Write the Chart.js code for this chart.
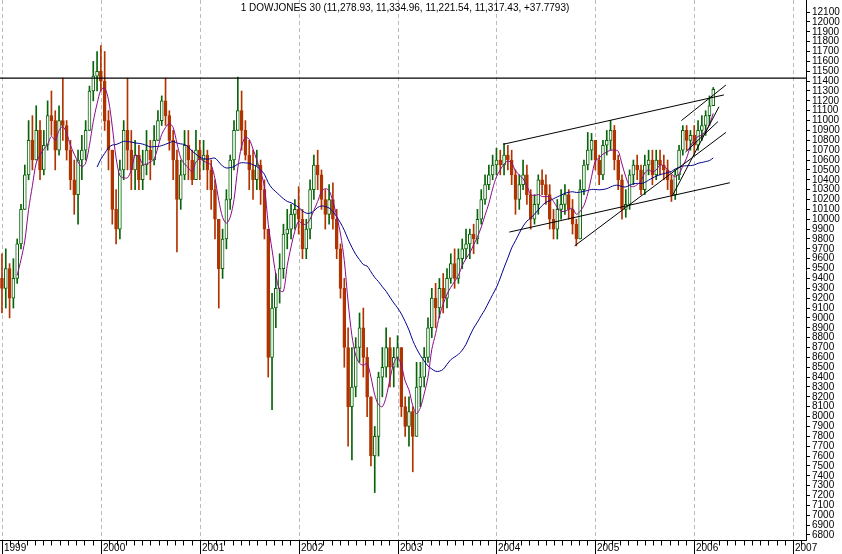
<!DOCTYPE html>
<html><head><meta charset="utf-8">
<script src="https://cdn.jsdelivr.net/npm/chart.js@4"></script>
<style>html,body{margin:0;padding:0;background:#fff}#wrap{width:842px;height:554px}</style>
</head><body><div id="wrap"><canvas id="c" width="842" height="554"></canvas></div>
<script>
// Bi-weekly bars, 1999.0 + i/26
const closes=[9300,9500,9200,9400,9750,10100,10450,10800,10600,10900,10500,10750,11050,11000,10700,11000,10950,10700,10400,10250,10600,10700,10900,11300,11450,11500,
11400,11000,10700,10100,9900,10500,10900,10700,10500,10650,10400,10550,10700,10600,10800,11000,11200,11050,10800,10600,10200,10450,10750,10600,10400,10700,
10600,10650,10500,10300,10000,9500,9800,10200,10600,10900,11100,10900,10650,10500,10400,10550,10300,9900,8600,9100,9300,9500,9850,9900,10050,10100,
10000,9700,9900,10300,10550,10450,10200,10050,10200,10000,9700,9300,8700,8100,8300,8700,8900,8600,8200,7600,7800,8400,8500,8700,8500,8600,
8700,8100,7900,8050,7800,8300,8400,8600,8900,9200,9100,9300,9200,9400,9550,9400,9600,9700,9750,9850,9800,10000,10200,10350,10450,
10550,10600,10550,10650,10600,10450,10200,10350,10450,10250,10000,10150,10400,10350,10250,10000,9900,10100,10150,10250,10100,9950,9800,10300,10550,10700,10800,
10600,10450,10750,10800,10900,10600,10400,10100,10150,10450,10550,10500,10300,10550,10600,10450,10600,10550,10500,10400,10250,10450,10700,10900,10800,10850,
10750,10900,10950,11050,11150,11317];
const highs=[9650,9700,9550,9600,9800,10150,10550,11000,11050,11150,11000,10900,11200,11300,11100,11150,11430,11000,10800,10600,10700,10850,11000,11350,11600,11700,
11760,11700,11100,10700,10300,10600,11000,11430,10900,10800,10750,10700,10900,10800,10950,11100,11250,11430,11100,10900,10700,10600,10900,10900,10700,10900,
10800,10800,10700,10600,10400,10000,9900,10300,10650,11000,11440,11300,11000,10800,10700,10700,10600,10400,9600,9250,9450,9650,9950,10100,10150,10200,
10330,10100,10000,10400,10650,10700,10500,10300,10350,10370,10100,9750,9400,8900,8700,8800,9050,9100,8700,8200,7900,8450,8700,8900,8800,8700,
8820,8700,8200,8200,8100,8550,8550,8700,9000,9300,9350,9400,9450,9500,9650,9700,9700,9800,9900,9900,9950,10100,10300,10450,10550,
10650,10720,10700,10770,10750,10700,10500,10450,10600,10550,10300,10250,10450,10500,10450,10350,10100,10200,10300,10350,10300,10200,10000,10400,10600,10880,10870,
10800,10650,10800,10900,11000,10950,10650,10450,10300,10500,10600,10650,10550,10650,10700,10700,10700,10700,10650,10600,10450,10500,10750,10950,10950,10900,
10950,11000,11050,11100,11250,11335];
const lows=[9050,9100,9000,9100,9350,9700,10100,10400,10500,10600,10400,10450,10700,10850,10500,10650,10800,10600,10300,10050,9950,10400,10600,10900,11200,11300,
11300,10900,10500,9950,9750,9800,10400,10500,10300,10300,10300,10300,10450,10400,10550,10800,10950,10950,10700,10400,9670,10100,10400,10400,10350,10400,
10400,10500,10300,10100,9800,9100,9400,9700,10100,10500,10900,10700,10600,10300,10200,10300,10150,9800,8400,8070,8900,9150,9400,9700,9800,9900,
9850,9600,9600,9800,10200,10300,10100,9900,9950,9900,9600,9200,8500,7700,7560,8200,8550,8400,8000,7500,7230,7600,8200,8400,8300,8300,
8500,8000,7800,7700,7440,7800,8100,8300,8550,8800,8900,9000,9050,9100,9350,9300,9350,9500,9600,9600,9650,9750,9950,10150,10300,
10400,10450,10450,10450,10500,10350,10050,10100,10300,10150,9900,9950,10050,10250,10150,9900,9800,9800,10000,10050,10000,9850,9730,9800,10250,10500,10600,
10500,10350,10400,10650,10700,10500,10300,10000,10020,10100,10350,10400,10250,10250,10450,10350,10400,10450,10400,10300,10180,10200,10400,10650,10700,10700,
10650,10700,10800,10850,10950,11150];
const resistance=11430;
const trendLines=[
 [[2004.07,10760],[2006.30,11260]],
 [[2004.13,9870],[2006.36,10370]],
 [[2004.79,9730],[2006.32,10880]],
 [[2005.78,10240],[2006.25,11140]],
 [[2005.87,11000],[2006.32,11360]],
 [[2005.91,10680],[2006.24,10990]]
];
const yearLabels=['1999','2000','2001','2002','2003','2004','2005','2006','2007'];
const titleText='1 DOWJONES 30 (11,278.93, 11,334.96, 11,221.54, 11,317.43, +37.7793)';

const XMIN=1998.98, XMAX=2007.13, YMIN=6749, YMAX=12222;
const GREEN='#086408', RED='#b03400';
const dates=closes.map((_,i)=>1999+i/26);
const opens=closes.map((c,i)=>i===0?9400:closes[i-1]);
const up=closes.map((c,i)=>c>=opens[i]);
function sma(n){return closes.map((_,i)=>{if(i<n-1)return null;let s=0;for(let k=i-n+1;k<=i;k++)s+=closes[k];return {x:dates[i],y:s/n};}).filter(v=>v);}

const datasets=[
 {type:'bar',data:dates.map((d,i)=>({x:d,y:[lows[i],highs[i]]})),backgroundColor:up.map(u=>u?GREEN:RED),barThickness:1,grouped:false,order:3},
 {type:'bar',data:dates.map((d,i)=>({x:d,y:[Math.min(opens[i],closes[i]),Math.max(opens[i],closes[i])]})),
  backgroundColor:up.map(u=>u?'#ffffff':RED),borderColor:up.map(u=>u?GREEN:RED),borderWidth:1,borderSkipped:false,barThickness:3,grouped:false,order:2},
 {type:'line',data:sma(5),borderColor:'#8b0a8b',borderWidth:1,pointRadius:0,tension:0.3,order:1},
 {type:'line',data:sma(26),borderColor:'#00008b',borderWidth:1,pointRadius:0,tension:0.3,order:1},
 {type:'line',data:[{x:XMIN,y:resistance},{x:XMAX,y:resistance}],borderColor:'#000',borderWidth:1.3,pointRadius:0,order:0}
];
trendLines.forEach(t=>datasets.push({type:'line',data:t.map(p=>({x:p[0],y:p[1]})),borderColor:'#000',borderWidth:1,pointRadius:0,order:0}));

const deco={id:'deco',
 beforeDatasetsDraw(ch){const {ctx,chartArea:a,scales:{x}}=ch;ctx.save();ctx.strokeStyle='#bbbbbb';ctx.setLineDash([4,3]);ctx.lineWidth=1;
  for(let y=1999;y<=2007;y++){const px=Math.round(x.getPixelForValue(y))+0.5;ctx.beginPath();ctx.moveTo(px,a.top);ctx.lineTo(px,a.bottom);ctx.stroke();}ctx.restore();},
 afterDraw(ch){const {ctx,chartArea:a,scales:{x}}=ch;ctx.save();ctx.strokeStyle='#000';ctx.fillStyle='#000';ctx.lineWidth=1;
  const by=a.bottom+0.5;ctx.beginPath();ctx.moveTo(a.left,by);ctx.lineTo(a.right,by);ctx.stroke();
  ctx.font='10px "Liberation Sans", Arial';ctx.textBaseline='middle';ctx.textAlign='left';
  for(let y=1999;y<=2007;y++){for(let m=0;m<12;m++){const v=y+m/12;if(v>XMAX)break;const px=Math.round(x.getPixelForValue(v))+0.5;
    ctx.beginPath();ctx.moveTo(px,by);ctx.lineTo(px,by+(m===0?14:5));ctx.stroke();}
   const px=Math.round(x.getPixelForValue(y));ctx.fillText(yearLabels[y-1999],px+2,by+8);}
  ctx.font='10px "Liberation Sans", Arial';ctx.textAlign='center';ctx.textBaseline='middle';ctx.fillText(titleText,405,8);
  ctx.restore();}
};

new Chart(document.getElementById('c'),{
 data:{datasets},
 plugins:[deco],
 options:{responsive:false,animation:false,events:[],
  layout:{padding:{left:0,top:0,right:0,bottom:14}},
  plugins:{legend:{display:false},tooltip:{enabled:false}},
  scales:{
   x:{type:'linear',min:XMIN,max:XMAX,display:false,offset:false},
   y:{position:'right',min:YMIN,max:YMAX,
    afterBuildTicks(s){const t=[];for(let v=6800;v<=12100;v+=100)t.push({value:v});s.ticks=t;},
    afterFit(s){s.width=36;s.paddingTop=0;s.paddingBottom=0;},
    border:{color:'#000',width:1},
    grid:{drawOnChartArea:false,tickLength:4,color:'#000'},
    ticks:{color:'#000',padding:2,font:{family:'"Liberation Sans", Arial',size:10},callback:v=>String(v),autoSkip:false}}
  }}
});
</script></body></html>
